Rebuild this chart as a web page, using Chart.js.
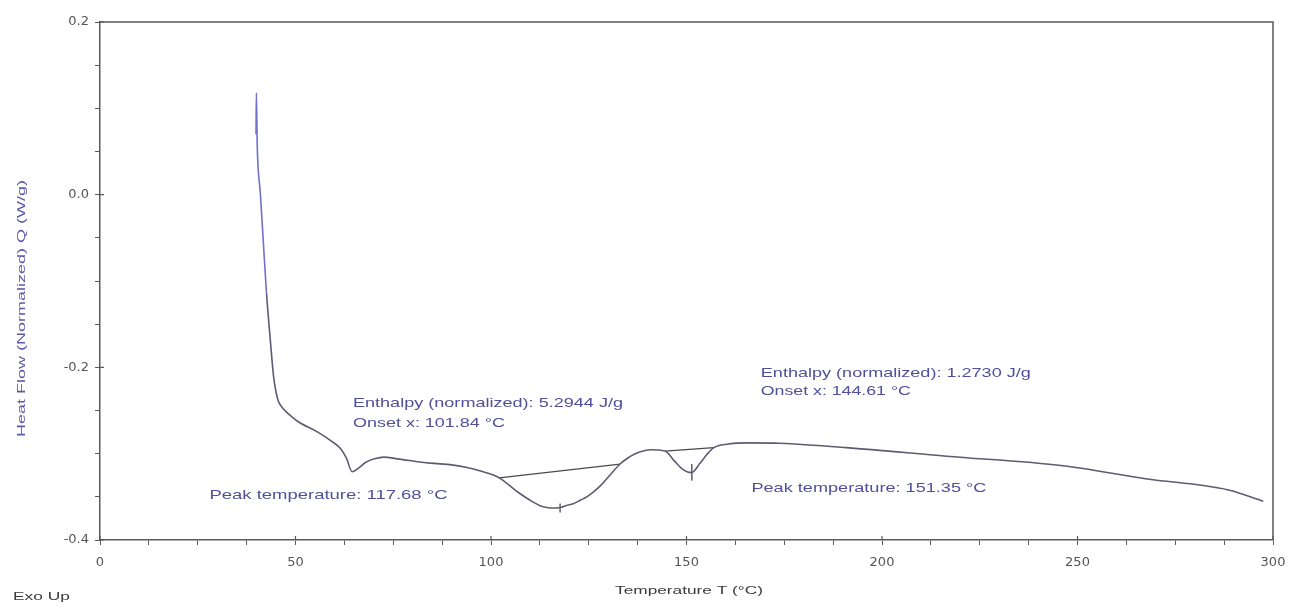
<!DOCTYPE html>
<html>
<head>
<meta charset="utf-8">
<title>DSC Heat Flow</title>
<script src="https://cdn.jsdelivr.net/npm/chart.js@4.4.0/dist/chart.umd.min.js"></script>
<style>
  html, body { margin: 0; padding: 0; background: #fff; }
  #wrap { width: 1308px; height: 607px; }
</style>
</head>
<body>
<div id="wrap"><canvas id="dscCanvas" width="1308" height="607"></canvas></div>
<script>
// ---- data ----
const temperature = [39.9, 40.0, 40.2, 41.0, 41.8, 42.6, 43.5, 44.4, 45.0, 45.6, 46.5, 47.5, 49.0, 50.7, 55.7,
  59.0, 61.5, 63.0, 64.5, 66.0, 68.0, 70.2, 72.6, 76.1, 84.4, 90.0, 93.9, 98.0, 102.1, 107.0, 110.0, 112.4,
  114.0, 116.0, 118.0, 119.3, 121.0, 122.8, 124.5, 126.3, 128.0, 130.0, 133.0, 135.0, 136.5, 138.1, 140.7,
  144.5, 147.0, 149.3, 151.3, 153.4, 155.2, 157.0, 160.3, 166.0, 173.8, 190.9, 216.5, 246.3, 267.4, 288.6,
  297.5];
const heatFlow = [0.070, 0.118, 0.060, 0.002, -0.057, -0.115, -0.165, -0.211, -0.228, -0.239, -0.246, -0.251,
  -0.257, -0.263, -0.275, -0.285, -0.294, -0.305, -0.321, -0.317, -0.310, -0.306, -0.304, -0.306, -0.311,
  -0.313, -0.316, -0.321, -0.328, -0.345, -0.354, -0.360, -0.362, -0.363, -0.362, -0.360, -0.358, -0.354,
  -0.350, -0.344, -0.337, -0.327, -0.312, -0.305, -0.301, -0.298, -0.2955, -0.297, -0.309, -0.319, -0.322,
  -0.3115, -0.301, -0.293, -0.289, -0.2875, -0.288, -0.293, -0.303, -0.314, -0.329, -0.342, -0.355];

// integration baselines
const baseline1T = [102.1, 133.0];
const baseline1Q = [-0.328, -0.312];
const baseline2T = [144.5, 157.0];
const baseline2Q = [-0.297, -0.293];

// peak markers
const peak1T = [117.68, 117.68];
const peak1Q = [-0.358, -0.368];
const peak2T = [151.35, 151.35];
const peak2Q = [-0.312, -0.331];

const xMajorTicks = [0, 50, 100, 150, 200, 250, 300];
const yMajorTicks = [-0.4, -0.2, 0.0, 0.2];

const pairs = (xs, ys) => xs.map((x, i) => ({ x: x, y: ys[i] }));

// annotation texts (anchored in data units, left edge / middle)
const notes = [
  { text: 'Enthalpy (normalized): 5.2944 J/g', t: 64.7, q: -0.242, w: 270 },
  { text: 'Onset x: 101.84 \u00B0C', t: 64.7, q: -0.265, w: 152 },
  { text: 'Peak temperature: 117.68 \u00B0C', t: 28.0, q: -0.3485, w: 238 },
  { text: 'Enthalpy (normalized): 1.2730 J/g', t: 169.0, q: -0.207, w: 270 },
  { text: 'Onset x: 144.61 \u00B0C', t: 169.0, q: -0.228, w: 150 },
  { text: 'Peak temperature: 151.35 \u00B0C', t: 166.6, q: -0.340, w: 235 }
];

const FONT = '"Liberation Sans", Arial, sans-serif';

function stretchedText(ctx, str, x, y, targetW, size, color, rotate) {
  ctx.save();
  ctx.font = size + 'px ' + FONT;
  ctx.fillStyle = color;
  ctx.textBaseline = 'middle';
  const w = ctx.measureText(str).width;
  ctx.translate(x, y);
  if (rotate) ctx.rotate(-Math.PI / 2);
  ctx.scale(targetW / w, 1);
  ctx.textAlign = 'left';
  ctx.fillText(str, 0, 0);
  ctx.restore();
}

const decorPlugin = {
  id: 'decor',
  afterDraw(chart) {
    const ctx = chart.ctx;
    const a = chart.chartArea;
    const xs = chart.scales.x;
    const ys = chart.scales.y;

    // frame top + right
    ctx.save();
    ctx.strokeStyle = '#5a5a5a';
    ctx.lineWidth = 1.5;
    ctx.beginPath();
    ctx.moveTo(a.left, a.top);
    ctx.lineTo(a.right, a.top);
    ctx.lineTo(a.right, a.bottom);
    ctx.stroke();

    // major ticks poke into the plot a little
    ctx.lineWidth = 1.2;
    ctx.beginPath();
    xMajorTicks.forEach(v => {
      const px = xs.getPixelForValue(v);
      ctx.moveTo(px, a.bottom);
      ctx.lineTo(px, a.bottom - 4);
    });
    yMajorTicks.forEach(v => {
      const py = ys.getPixelForValue(v);
      ctx.moveTo(a.left, py);
      ctx.lineTo(a.left + 4, py);
    });
    ctx.stroke();
    ctx.restore();

    // annotations
    notes.forEach(n => {
      stretchedText(ctx, n.text, xs.getPixelForValue(n.t), ys.getPixelForValue(n.q), n.w, 13, '#50509a', false);
    });

    // axis titles
    stretchedText(ctx, 'Heat Flow (Normalized) Q (W/g)', 22, 437, 257, 11, '#5a5aa8', true);
    stretchedText(ctx, 'Temperature T (\u00B0C)', 615, 591, 148, 11, '#3a3a3a', false);
    stretchedText(ctx, 'Exo Up', 13, 597, 57, 11, '#3a3a3a', false);
  }
};

const ctxEl = document.getElementById('dscCanvas');
new Chart(ctxEl, {
  type: 'scatter',
  data: {
    datasets: [
      {
        label: 'Heat flow',
        data: pairs(temperature, heatFlow),
        showLine: true,
        borderColor: '#5c5c72',
        borderWidth: 1.6,
        pointRadius: 0,
        cubicInterpolationMode: 'monotone',
        segment: {
          borderColor: c => (c.p0.parsed.x < 42 ? '#7272c8' : '#5c5c72')
        }
      },
      {
        label: 'Baseline 1',
        data: pairs(baseline1T, baseline1Q),
        showLine: true,
        borderColor: '#4a4a4a',
        borderWidth: 1.3,
        pointRadius: 0
      },
      {
        label: 'Baseline 2',
        data: pairs(baseline2T, baseline2Q),
        showLine: true,
        borderColor: '#4a4a4a',
        borderWidth: 1.3,
        pointRadius: 0
      },
      {
        label: 'Peak 1',
        data: pairs(peak1T, peak1Q),
        showLine: true,
        borderColor: '#777',
        borderWidth: 1,
        pointRadius: 0
      },
      {
        label: 'Peak 2',
        data: pairs(peak2T, peak2Q),
        showLine: true,
        borderColor: '#666',
        borderWidth: 1,
        pointRadius: 0
      }
    ]
  },
  options: {
    responsive: false,
    animation: false,
    layout: { padding: { top: 22, right: 35, left: 0, bottom: 0 } },
    plugins: {
      legend: { display: false },
      tooltip: { enabled: false }
    },
    scales: {
      x: {
        type: 'linear',
        min: 0,
        max: 300,
        afterFit: s => { s.height = 67; },
        border: { display: true, color: '#5a5a5a', width: 1.5 },
        grid: { drawOnChartArea: false, drawTicks: true, tickLength: 5, color: '#5a5a5a', lineWidth: 1 },
        ticks: {
          stepSize: 12.5,
          autoSkip: false,
          maxRotation: 0,
          padding: 10,
          color: '#555',
          font: { family: '"DejaVu Sans", sans-serif', size: 13 },
          callback: v => (xMajorTicks.includes(Math.round(v * 100) / 100) ? String(Math.round(v)) : '')
        }
      },
      y: {
        type: 'linear',
        min: -0.4,
        max: 0.2,
        afterFit: s => { s.width = 100; },
        border: { display: true, color: '#5a5a5a', width: 1.5 },
        grid: { drawOnChartArea: false, drawTicks: true, tickLength: 5, color: '#5a5a5a', lineWidth: 1 },
        ticks: {
          stepSize: 0.05,
          autoSkip: false,
          padding: 6,
          color: '#555',
          font: { family: '"DejaVu Sans", sans-serif', size: 13 },
          callback: v => {
            const hit = yMajorTicks.find(m => Math.abs(m - v) < 1e-6);
            return hit === undefined ? '' : hit.toFixed(1);
          }
        }
      }
    }
  },
  plugins: [decorPlugin]
});
</script>
</body>
</html>
